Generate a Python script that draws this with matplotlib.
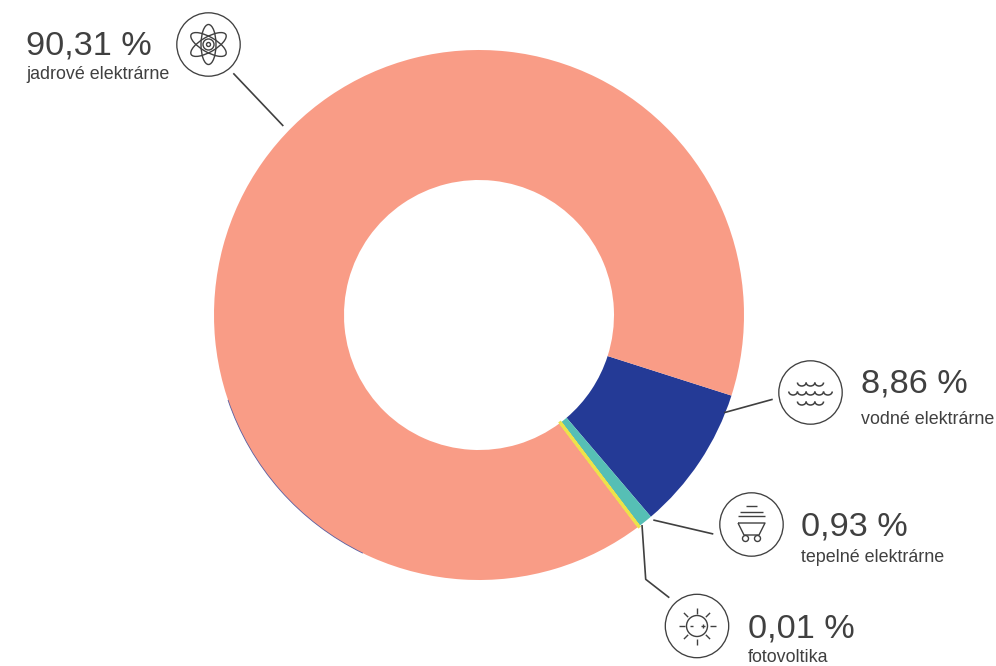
import numpy as np
from matplotlib import pyplot as plt
from matplotlib.patches import Arc, Circle, Ellipse

W, H = 996, 666
CENTER = (479, 315)
RADIUS = 265
INNER = 135
DARK = '#404040'

# pie order, clockwise from the blue slice
NAMES = ["vodné elektrárne", "tepelné elektrárne", "fotovoltika", "jadrové elektrárne"]
SHARES = [8.86, 0.93, 0.01, 90.31]
COLORS = ['#243A96', '#56BFB5', '#EDE24A', '#F99C86']

plt.rcParams['font.family'] = ['Liberation Sans', 'DejaVu Sans']


def line(ax, xs, ys, lw=1.0):
    ax.plot(xs, ys, c=DARK, lw=lw, solid_capstyle='butt')


def atom(ax, cx, cy):
    for a in (0, 60, -60):
        ax.add_patch(Ellipse((cx, cy), 15, 40, angle=a, fill=False, ec=DARK, lw=1.0))
    ax.add_patch(Circle((cx, cy), 5.5, fill=False, ec=DARK, lw=1.0))
    ax.add_patch(Circle((cx, cy), 2, fill=False, ec=DARK, lw=1.0))


def water(ax, cx, cy):
    for dy, n in ((-10, 3), (-1, 5), (9, 3)):
        for i in range(n):
            x = cx + (i - (n - 1) / 2) * 8.7
            ax.add_patch(Arc((x, cy + dy), 8.7, 7, theta1=0, theta2=180, ec=DARK, lw=1.1))


def cart(ax, cx, cy):
    for dy, half in ((-18.5, 5.5), (-13, 11.5), (-8.5, 13.5)):
        line(ax, [cx - half, cx + half], [cy + dy, cy + dy], 1.0)
    line(ax, [cx - 13.5, cx + 13.5, cx + 7.5, cx - 7.5, cx - 13.5],
         [cy - 1.5, cy - 1.5, cy + 10.5, cy + 10.5, cy - 1.5], 1.0)
    for dx in (-6, 6):
        ax.add_patch(Circle((cx + dx, cy + 14), 3, fill=False, ec=DARK, lw=1.0))


def sun(ax, cx, cy):
    ax.add_patch(Circle((cx, cy), 10.5, fill=False, ec=DARK, lw=1.0))
    for a in np.arange(0, 360, 45):
        c, s = np.cos(np.radians(a)), np.sin(np.radians(a))
        line(ax, [cx + 12.5 * c, cx + 18.5 * c], [cy + 12.5 * s, cy + 18.5 * s], 1.0)
    line(ax, [cx - 7, cx - 4], [cy, cy], 1.0)
    line(ax, [cx + 4, cx + 8], [cy, cy], 1.0)
    line(ax, [cx + 6, cx + 6], [cy - 2, cy + 2], 1.0)


def callout(ax, value, name, x, y_value, y_name):
    text = f"{value:.2f}".replace(".", ",") + " %"
    ax.text(x, y_value, text, fontsize=24.7, color=DARK, va='baseline', ha='left')
    ax.text(x, y_name, name, fontsize=12.9, color=DARK, va='baseline', ha='left')


def main():
    fig = plt.figure(figsize=(W / 100, H / 100), dpi=100)

    ax_pie = fig.add_axes([(CENTER[0] - RADIUS) / W, (H - CENTER[1] - RADIUS) / H,
                           2 * RADIUS / W, 2 * RADIUS / H])
    wedges, _ = ax_pie.pie(SHARES, colors=COLORS, startangle=-17.7, counterclock=False,
                           radius=1, wedgeprops={'width': 1 - INNER / RADIUS, 'linewidth': 0})
    # the 0,01 % slice is only visible thanks to its stroke
    wedges[2].set(edgecolor=COLORS[2], linewidth=2.2, zorder=5)
    for w in wedges:
        w.set_clip_on(False)
    ax_pie.set_xlim(-1, 1)
    ax_pie.set_ylim(-1, 1)
    # thin blue sliver showing along the outer edge
    ax_pie.add_patch(Arc((0, 0), 2, 2, theta1=198.7, theta2=244, ec=COLORS[0], lw=0.6,
                         alpha=0.75, zorder=6, clip_on=False))

    ax = fig.add_axes([0, 0, 1, 1])
    ax.set_xlim(0, W)
    ax.set_ylim(H, 0)
    ax.axis('off')

    line(ax, [233.3, 283.3], [73.3, 126], 1.2)
    line(ax, [772.7, 724], [399.3, 412.7], 1.2)
    line(ax, [653.3, 713.3], [520, 534], 1.2)
    line(ax, [642, 645.7, 669.3], [525, 579.3, 597.7], 1.2)

    icons = [(atom, 208.5, 44.5), (water, 810.5, 392.5), (cart, 751.5, 524.5), (sun, 697, 626)]
    for icon, cx, cy in icons:
        ax.add_patch(Circle((cx, cy), 31.7, fill=False, ec=DARK, lw=0.95))
        icon(ax, cx, cy)

    callout(ax, SHARES[3], NAMES[3], 26, 54.5, 79)
    callout(ax, SHARES[0], NAMES[0], 861, 392.5, 424)
    callout(ax, SHARES[1], NAMES[1], 801, 535.5, 561.5)
    callout(ax, SHARES[2], NAMES[2], 748, 637, 662)

    fig.savefig("out.png", dpi=100)
    plt.close()


if __name__ == "__main__":
    main()
